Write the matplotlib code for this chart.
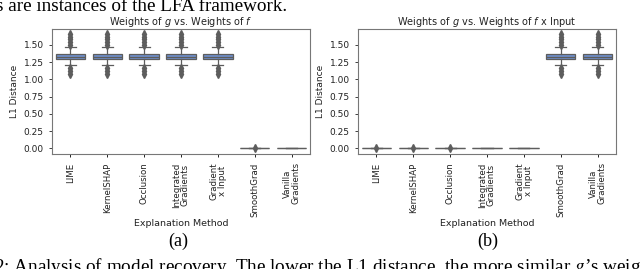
import matplotlib
matplotlib.use("Agg")
import matplotlib.pyplot as plt

methods = ["LIME", "KernelSHAP", "Occlusion", "Integrated\nGradients",
           "Gradient\nx Input", "SmoothGrad", "Vanilla\nGradients"]

# box stats for a "nonzero" method (same for all of them) and a "zero" method
hi_q1, hi_med, hi_q3 = 1.29, 1.325, 1.365
hi_whislo, hi_whishi = 1.205, 1.47
hi_fliers = [1.08, 1.12, 1.17, 1.50, 1.54, 1.58, 1.62, 1.655]
zero_fliers = [0.005]

# which methods are ~1.33 in each panel, and which zero-boxes show a flier
left_high = [True, True, True, True, True, False, False]
left_zero_flier = [False, False, False, False, False, True, False]
right_high = [False, False, False, False, False, True, True]
right_zero_flier = [True, True, True, False, False, False, False]

box_color = "#6f8fca"
gray = "#5d5d5d"


def make_stats(high, zflier):
    out = []
    for h, z in zip(high, zflier):
        if h:
            out.append(dict(q1=hi_q1, med=hi_med, q3=hi_q3, whislo=hi_whislo,
                            whishi=hi_whishi, fliers=hi_fliers))
        else:
            out.append(dict(q1=0.0, med=0.0, q3=0.0, whislo=0.0, whishi=0.0,
                            fliers=zero_fliers if z else []))
    return out


def draw(ax, high, zflier, title):
    stats = make_stats(high, zflier)
    ax.bxp(stats, positions=range(len(methods)), widths=0.8, capwidths=0.3,
           patch_artist=True,
           boxprops=dict(facecolor=box_color, edgecolor=gray, linewidth=0.9),
           medianprops=dict(color=gray, linewidth=0.9),
           whiskerprops=dict(color=gray, linewidth=0.9),
           capprops=dict(color=gray, linewidth=0.9),
           flierprops=dict(marker="d", markerfacecolor=gray, markeredgecolor=gray,
                           markersize=3.8, linestyle="none"))
    ax.set_xlim(-0.5, len(methods) - 0.5)
    ax.set_ylim(-0.083, 1.73)
    ax.set_yticks([0, 0.25, 0.5, 0.75, 1.0, 1.25, 1.5])
    ax.set_yticklabels(["0.00", "0.25", "0.50", "0.75", "1.00", "1.25", "1.50"])
    ax.set_xticks(range(len(methods)))
    ax.set_xticklabels(methods, rotation=90, fontsize=6.2, color="#222222", linespacing=0.9)
    ax.tick_params(axis="y", labelsize=6.5, colors="#222222", length=2.5, width=0.6)
    ax.tick_params(axis="x", length=2.5, width=0.6)
    ax.set_ylabel("L1 Distance", fontsize=6.5, color="#222222", labelpad=3)
    ax.set_xlabel("Explanation Method", fontsize=6.8, color="#222222", labelpad=2)
    ax.set_title(title, fontsize=7, color="#222222", pad=3)
    for s in ax.spines.values():
        s.set_color("#777777")
        s.set_linewidth(0.8)


fig = plt.figure(figsize=(6.4, 2.69), dpi=100)
W, H = 640, 269
ax1 = fig.add_axes([52 / W, 1 - 154 / H, 258 / W, 125 / H])
ax2 = fig.add_axes([358 / W, 1 - 154 / H, 258 / W, 125 / H])

draw(ax1, left_high, left_zero_flier, "Weights of $g$ vs. Weights of $f$")
draw(ax2, right_high, right_zero_flier, "Weights of $g$ vs. Weights of $f$ x Input")

fig.text(178 / W, 1 - 241 / H, "(a)", fontsize=13, family="Liberation Serif", ha="center", va="center")
fig.text(488 / W, 1 - 241 / H, "(b)", fontsize=13, family="Liberation Serif", ha="center", va="center")

fig.text(-4 / W, 1 - 11 / H, "s are instances of the LFA framework.", fontsize=13.8,
         family="Liberation Serif", ha="left", va="baseline")
fig.text(-6 / W, 1 - 272 / H,
         "2: Analysis of model recovery. The lower the L1 distance, the more similar $g$\u2019s weights to",
         fontsize=13.8, family="Liberation Serif", math_fontfamily="stix",
         ha="left", va="baseline")

fig.savefig("out.png", dpi=100)
